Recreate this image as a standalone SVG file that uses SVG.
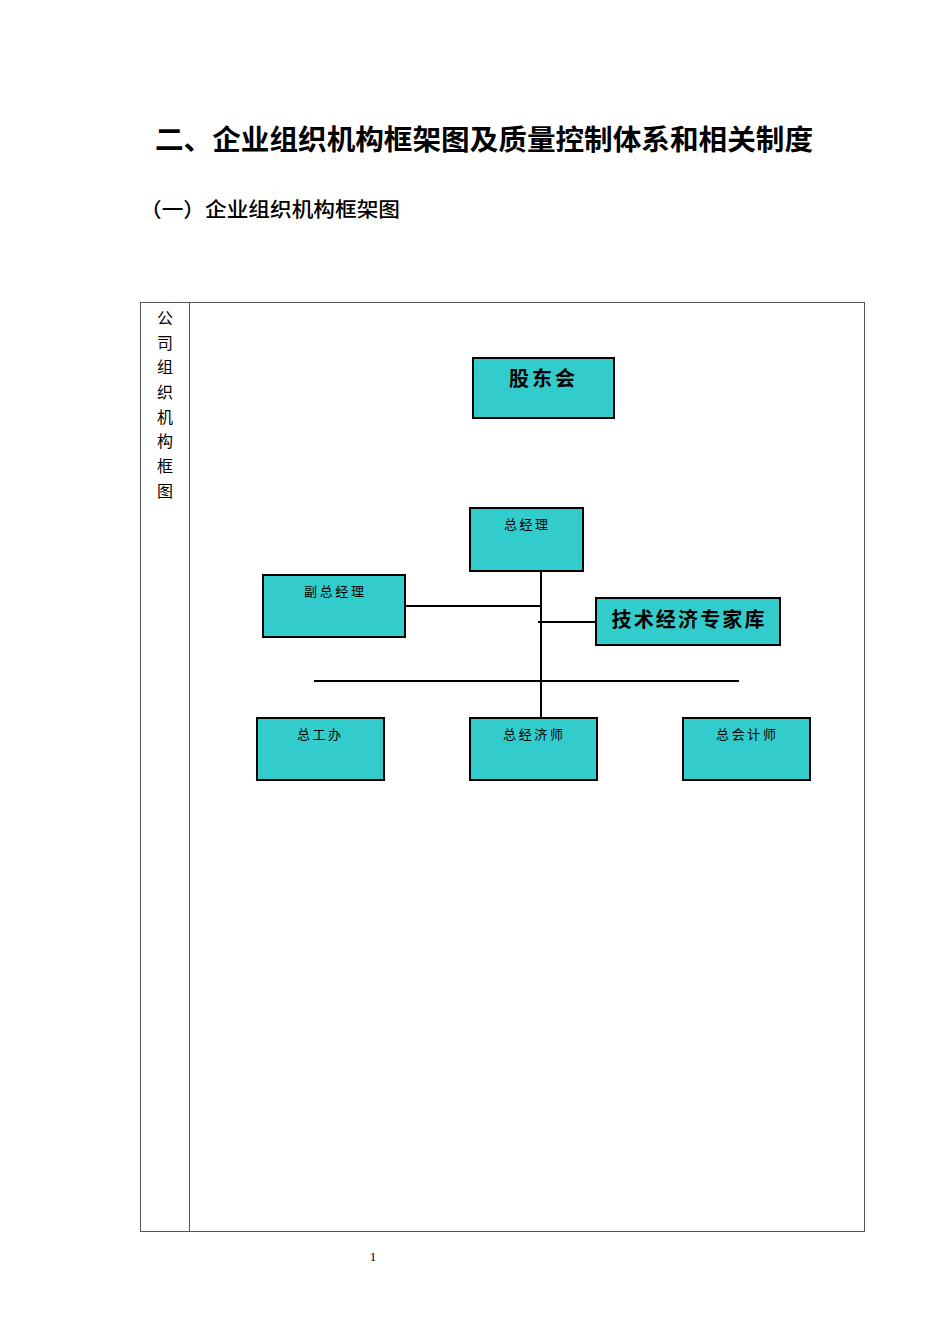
<svg xmlns="http://www.w3.org/2000/svg" width="950" height="1344" viewBox="0 0 950 1344">
<style>
.box{fill:#33CCCC;stroke:#000;stroke-width:2}
.lbl{font-family:"Noto Sans CJK SC",sans-serif;font-size:13px;fill:#000;text-anchor:middle;letter-spacing:2px}
.big{font-family:"Noto Sans CJK SC",sans-serif;font-size:20px;font-weight:bold;fill:#000;text-anchor:middle}
.vt{font-family:"Noto Sans CJK SC",sans-serif;font-size:16px;fill:#000;text-anchor:middle}
.conn line{stroke:#000;stroke-width:2}
</style>
<rect width="950" height="1344" fill="#fff"/>
<text x="484" y="150" font-family="Noto Sans CJK SC,sans-serif" font-size="28" font-weight="bold" text-anchor="middle" textLength="658" lengthAdjust="spacingAndGlyphs">二、企业组织机构框架图及质量控制体系和相关制度</text>
<text x="140" y="217" font-family="Noto Sans CJK SC,sans-serif" font-size="20" font-weight="500" textLength="260" lengthAdjust="spacingAndGlyphs">（一）企业组织机构框架图</text>
<g id="table" fill="none" stroke="#555" stroke-width="1">
<rect x="140.5" y="302.5" width="724" height="929"/>
<line x1="189.5" y1="302.5" x2="189.5" y2="1231.5"/>
</g>
<g id="side-label">
<text class="vt" x="165" y="324">公</text>
<text class="vt" x="165" y="349">司</text>
<text class="vt" x="165" y="373">组</text>
<text class="vt" x="165" y="398">织</text>
<text class="vt" x="165" y="423">机</text>
<text class="vt" x="165" y="447">构</text>
<text class="vt" x="165" y="472">框</text>
<text class="vt" x="165" y="497">图</text>
</g>
<g class="conn" id="connectors">
<line x1="541" y1="571" x2="541" y2="718"/>
<line x1="405" y1="606" x2="541" y2="606"/>
<line x1="538" y1="622" x2="596" y2="622"/>
<line x1="314" y1="681" x2="739" y2="681"/>
</g>
<g id="n-gudonghui"><rect class="box" x="473" y="358" width="141" height="60"/><text class="big" x="542" y="386" textLength="66" lengthAdjust="spacing">股东会</text></g>
<g id="n-zongjingli"><rect class="box" x="470" y="508" width="113" height="63"/><text class="lbl" x="527" y="529" textLength="46" lengthAdjust="spacing">总经理</text></g>
<g id="n-fuzongjingli"><rect class="box" x="263" y="575" width="142" height="62"/><text class="lbl" x="335" y="596" textLength="62" lengthAdjust="spacing">副总经理</text></g>
<g id="n-zhuanjiaku"><rect class="box" x="596" y="598" width="184" height="47"/><text class="big" x="688" y="627" textLength="153" lengthAdjust="spacing">技术经济专家库</text></g>
<g id="n-zonggongban"><rect class="box" x="257" y="718" width="127" height="62"/><text class="lbl" x="320" y="739" textLength="46" lengthAdjust="spacing">总工办</text></g>
<g id="n-zongjingjishi"><rect class="box" x="470" y="718" width="127" height="62"/><text class="lbl" x="534" y="739" textLength="62" lengthAdjust="spacing">总经济师</text></g>
<g id="n-zongkuaijishi"><rect class="box" x="683" y="718" width="127" height="62"/><text class="lbl" x="747" y="739" textLength="62" lengthAdjust="spacing">总会计师</text></g>
<text x="373" y="1261" font-family="Liberation Serif,serif" font-size="13" text-anchor="middle">1</text>
</svg>
